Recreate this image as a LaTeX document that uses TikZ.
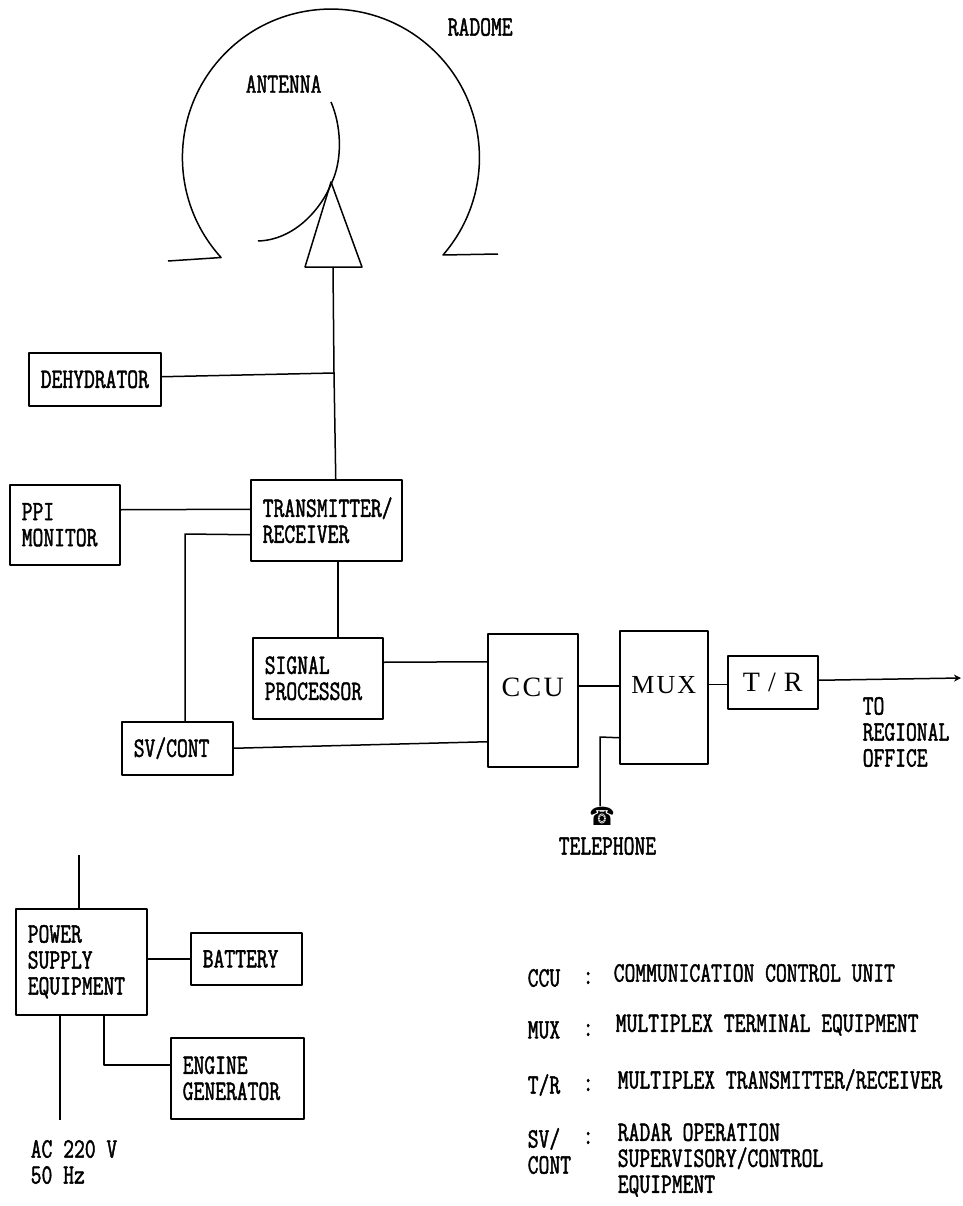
\documentclass[tikz,border=0pt]{standalone}
\usepackage{fontspec}
\usetikzlibrary{arrows.meta}
\newfontfamily\dm[FakeStretch=0.75,FakeBold=1.6]{Latin Modern Mono}
\newfontfamily\bigf[LetterSpace=8]{Liberation Serif}
\newfontfamily\telf{DejaVu Sans}
\tikzset{
  every path/.style={line width=1.5pt,line join=round},
  lbl/.style={inner sep=0pt,align=left,font=\dm\fontsize{28}{26}\selectfont,anchor=west},
  box/.style={draw,anchor=north west,inner ysep=0pt,inner xsep=12pt,align=left,
    font=\dm\fontsize{28}{26}\selectfont},
  bigbox/.style={draw,anchor=north west,inner sep=0pt,font=\bigf\fontsize{28}{30}\selectfont}
}
\newcommand{\bx}[6]{\node[box,text width=#4pt-24pt,minimum height=#5pt] (#1) at (#2,#3) {#6};}
\begin{document}
\begin{tikzpicture}[x=1pt,y=-1pt]
\useasboundingbox[fill=white] (0,0) rectangle (962,1206);
% radome and antenna
\coordinate (rfr) at (443,255);
\draw (498,254) -- (rfr) arc[start angle=41,end angle=-222.3,radius=148.5] -- (168,261);
\draw (331,102) .. controls (341,125) and (343,158) .. (332,182) .. controls (322,208) and (295,240) .. (258,241);
\draw (331,182) coordinate (apex) -- (305,267) -- (362,267) -- cycle;
\coordinate (feedtop) at (333,267);
\coordinate (jd) at (334,373);
\node[lbl] (radome) at (447,27) {RADOME};
\node[lbl] (antenna) at (245,84) {ANTENNA};
% boxes
\bx{dehy}{28}{352}{132}{53}{DEHYDRATOR}
\bx{ppi}{9}{484}{110}{80}{PPI\\MONITOR}
\bx{tx}{250}{479}{151}{81}{TRANSMITTER/\\RECEIVER}
\bx{sig}{252}{637}{130}{81}{SIGNAL\\PROCESSOR}
\bx{sv}{121}{721}{111}{53}{SV/CONT}
\bx{pow}{15}{908}{131}{106}{POWER\\SUPPLY\\EQUIPMENT}
\bx{bat}{190}{932}{111}{52}{BATTERY}
\bx{eng}{170}{1037}{133}{81}{ENGINE\\GENERATOR}
\node[bigbox,minimum width=90pt,minimum height=133pt,text depth=26pt] (ccu) at (487,633) {CCU};
\node[bigbox,minimum width=88pt,minimum height=133pt,text depth=24pt,font=\bigf\fontsize{26}{30}\selectfont] (mux) at (619,630) {MUX};
\node[bigbox,minimum width=90pt,minimum height=53pt] (tr) at (727,655) {T\hspace{8pt}/\hspace{8pt}R};
% connectors
\draw (feedtop) -- (jd) -- ([xshift=9.5pt]tx.north);
\draw ([yshift=2.5pt]dehy.east) -- (jd);
\draw ([yshift=15pt]ppi.east) -- ([yshift=11pt]tx.west);
\coordinate (bend) at (185,534);
\draw ([yshift=-14.5pt]tx.west) -- (bend) -- (sv.north -| bend);
\coordinate (txs) at ([xshift=11.5pt]tx.south);
\draw (txs) -- (txs |- sig.north);
\draw ([yshift=16pt]sig.east) -- ([yshift=38.5pt]ccu.west);
\draw (sv.east) -- ([yshift=-41.5pt]ccu.west);
\draw ([yshift=14.5pt]ccu.east) -- ([yshift=11.5pt]mux.west);
\draw ([yshift=13pt]mux.east) -- ([yshift=-2pt]tr.west);
\draw[-{Stealth[length=7pt,width=7pt]}] ([yshift=2pt]tr.east) -- (961,678);
\coordinate (telb) at (600,737);
\node[inner sep=0pt,font=\telf\fontsize{24}{24}\selectfont] (phone) at (602,816) {\scalebox{.85}[1.05]{☎}};
\draw ([yshift=-40.5pt]mux.west) -- (telb) -- (telb |- phone.north);
\node[lbl] (tel) at (558,846) {TELEPHONE};
\node[lbl] (to) at (862,732) {TO\\REGIONAL\\OFFICE};
% power
\coordinate (ptop) at (79,855);
\coordinate (pac) at (60,1120);
\coordinate (pb) at (104,1065);
\draw (ptop) -- (ptop |- pow.north);
\draw (pac |- pow.south) -- (pac);
\draw (pb |- pow.south) -- (pb) -- (eng.west |- pb);
\draw ([yshift=3pt]pow.east) -- (bat.west);
\node[lbl] (ac) at (30,1162) {AC 220 V\\50 Hz};
% legend
\node[lbl] (k1) at (527,978) {CCU};
\node[lbl] (c1) at (582,978) {:};
\node[lbl] (d1) at (613,973) {COMMUNICATION CONTROL UNIT};
\node[lbl] (k2) at (527,1030) {MUX};
\node[lbl] (c2) at (582,1030) {:};
\node[lbl] (d2) at (615,1025) {MULTIPLEX TERMINAL EQUIPMENT};
\node[lbl] (k3) at (527,1085) {T/R};
\node[lbl] (c3) at (582,1085) {:};
\node[lbl] (d3) at (617,1080) {MULTIPLEX TRANSMITTER/RECEIVER};
\node[lbl] (k4) at (527,1151) {SV/\\CONT};
\node[lbl] (c4) at (582,1138) {:};
\node[lbl] (d4) at (617,1160) {RADAR OPERATION\\SUPERVISORY/CONTROL\\EQUIPMENT};
\end{tikzpicture}
\end{document}
